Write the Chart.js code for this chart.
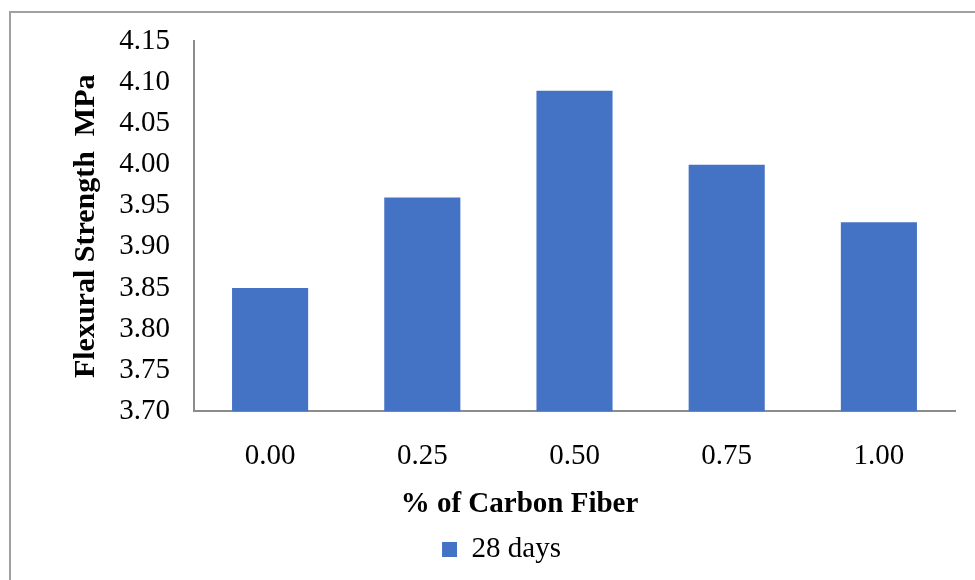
<!DOCTYPE html>
<html>
<head>
<meta charset="utf-8">
<script src="https://cdn.jsdelivr.net/npm/chart.js@4/dist/chart.umd.min.js"></script>
<style>
  html, body { margin: 0; padding: 0; background: #fff; overflow: hidden; }
  #wrap { position: relative; width: 975px; height: 580px; }
  #frame { position: absolute; left: 9px; top: 11px; width: 1200px; height: 1200px; border: 2px solid #a0a0a0; box-sizing: border-box; }
  canvas { position: absolute; left: 0; top: 0; }
</style>
</head>
<body>
<div id="wrap">
  <div id="frame"></div>
  <canvas id="c" width="975" height="580"></canvas>
</div>
<script>
const categories = ['0.00', '0.25', '0.50', '0.75', '1.00'];
const seriesName = '28 days';
const flexuralStrength = [3.85, 3.96, 4.09, 4.00, 3.93];
const yTickMin = 3.70;
const yTickMax = 4.15;
const yTickStep = 0.05;
const xTitle = '% of Carbon Fiber';
const yTitle = 'Flexural Strength  MPa';

const FONT = "'Liberation Serif', 'Times New Roman', serif";

const shiftPlugin = {
  id: 'shiftBoxes',
  afterLayout(chart) {
    if (chart.titleBlock) { chart.titleBlock.left += 37; chart.titleBlock.right += 37; }
    if (chart.legend) { chart.legend.left += 19; chart.legend.right += 19; }
  }
};

new Chart(document.getElementById('c'), {
  type: 'bar',
  data: {
    labels: categories,
    datasets: [{
      label: seriesName,
      data: flexuralStrength,
      backgroundColor: '#4472C4',
      borderWidth: 0,
      barPercentage: 0.5,
      categoryPercentage: 1.0
    }]
  },
  options: {
    responsive: false,
    animation: false,
    events: [],
    layout: { padding: { left: 10, right: 20, top: 40, bottom: 6 } },
    scales: {
      x: {
        grid: { display: false, drawTicks: false },
        border: { display: true, color: '#8c8c8c', width: 2 },
        ticks: { color: '#000', font: { family: FONT, size: 29 }, padding: 28, maxRotation: 0 },
        afterFit(scale) { scale.height = 76; }
      },
      y: {
        min: yTickMin,
        max: yTickMax,
        grid: { display: false, drawTicks: false },
        border: { display: true, color: '#8c8c8c', width: 2 },
        ticks: {
          stepSize: yTickStep,
          color: '#000',
          font: { family: FONT, size: 29 },
          padding: 24,
          callback: v => Number(v).toFixed(2)
        },
        title: {
          display: true,
          text: yTitle,
          color: '#000',
          font: { family: FONT, size: 30, weight: 'bold' },
          padding: { top: 58, bottom: 0 }
        },
        afterFit(scale) { scale.width = 184; }
      }
    },
    plugins: {
      title: {
        display: true,
        position: 'bottom',
        text: xTitle,
        color: '#000',
        weight: 500,
        font: { family: FONT, size: 29, weight: 'bold' },
        padding: { top: 0, bottom: 3 }
      },
      legend: {
        display: true,
        position: 'bottom',
        labels: {
          color: '#000',
          font: { family: FONT, size: 29 },
          boxWidth: 15,
          boxHeight: 15,
          padding: 10
        }
      },
      tooltip: { enabled: false }
    }
  },
  plugins: [shiftPlugin]
});
</script>
</body>
</html>
